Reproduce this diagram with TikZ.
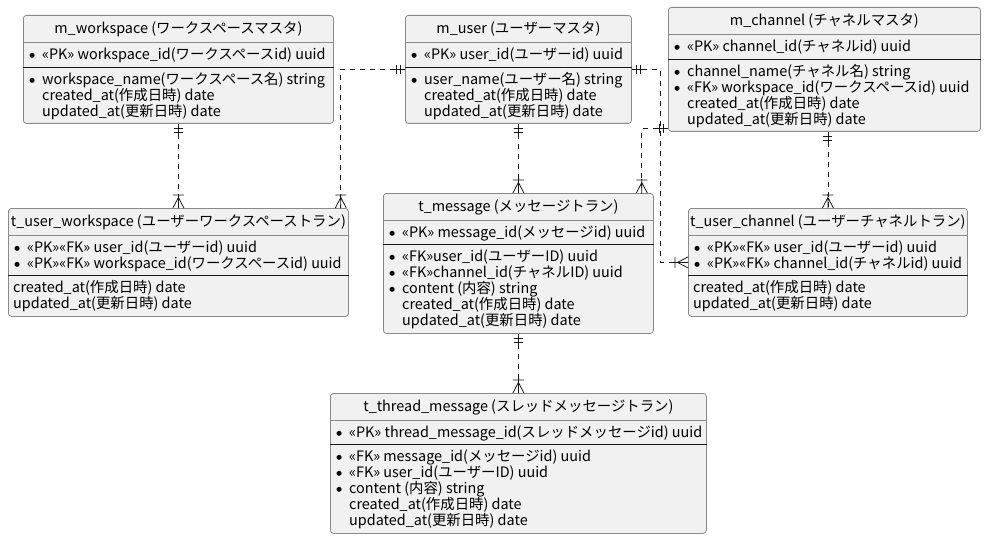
\documentclass[tikz,border=0pt]{standalone}
\usepackage{fontspec}
\setmainfont{Noto Sans CJK JP}
\newfontfamily\dotfont{DejaVu Sans}
\usetikzlibrary{calc}

\definecolor{entfill}{HTML}{F1F1F1}
\definecolor{entline}{HTML}{8A8A8A}
\definecolor{relline}{HTML}{181818}

\newcommand\bl{\makebox[8pt][c]{\raisebox{1.7pt}{\dotfont\fontsize{6.5}{8}\selectfont ●}}\hspace{6pt}}
\newcommand\nb{\hspace*{14pt}}

\tikzset{
  entbox/.style={draw=entline, fill=entfill, rounded corners=3pt, line width=0.8pt, inner sep=0pt},
  hsep/.style={draw=entline, line width=0.8pt},
  ksep/.style={draw=relline, line width=0.9pt},
  row/.style={anchor=base west, inner sep=0pt, font=\fontsize{14.4}{16}\selectfont},
  title/.style={anchor=base, inner sep=0pt, font=\fontsize{14.4}{16}\selectfont},
  rel/.style={draw=relline, line width=0.8pt, dash pattern=on 5pt off 5pt},
  exone/.pic={\draw[relline, line width=0.8pt] (0,0) -- (0,11) (-4.5,5) -- (4.5,5) (-4.5,8.5) -- (4.5,8.5);},
  onemany/.pic={\draw[relline, line width=0.8pt] (-5.5,0) -- (0,10.5) -- (5.5,0) (0,0) -- (0,14) (-5.5,13) -- (5.5,13);},
}

% #1 name, #2 x, #3 y, #4 width, #5 height, #6 key part height, #7 title, #8 key rows, #9 other rows
\newcommand\entity[9]{%
  \node[entbox, minimum width=#4pt, minimum height=#5pt, anchor=north west] (#1) at (#2,#3) {};
  \node[title] (#1-t) at ($(#1.north)+(0,18.5)$) {#7};
  \draw[hsep] ($(#1.north west)+(0,27)$) -- ($(#1.north east)+(0,27)$);
  \foreach \r [count=\i from 0] in {#8}
    \node[row] at ($(#1.north west)+(5,44.5+16*\i)$) {\r};
  \draw[ksep] ($(#1.north west)+(0,27+#6)$) -- ($(#1.north east)+(0,27+#6)$);
  \foreach \r [count=\i from 0] in {#9}
    \node[row] at ($(#1.north west)+(5,44.5+#6+16*\i)$) {\r};
}

\begin{document}
\begin{tikzpicture}[x=1pt, y=-1pt]
\useasboundingbox (0,0) rectangle (984,540);

\entity{ws}{23}{15}{310}{108}{25}{m\_workspace (ワークスペースマスタ)}
  {\bl «PK» workspace\_id(ワークスペースid) uuid}
  {\bl workspace\_name(ワークスペース名) string, \nb created\_at(作成日時) date, \nb updated\_at(更新日時) date}
\entity{us}{405}{15}{226}{108}{25}{m\_user (ユーザーマスタ)}
  {\bl «PK» user\_id(ユーザーid) uuid}
  {\bl user\_name(ユーザー名) string, \nb created\_at(作成日時) date, \nb updated\_at(更新日時) date}
\entity{ch}{668}{7}{312}{124}{25}{m\_channel (チャネルマスタ)}
  {\bl «PK» channel\_id(チャネルid) uuid}
  {\bl channel\_name(チャネル名) string, \bl «FK» workspace\_id(ワークスペースid) uuid, \nb created\_at(作成日時) date, \nb updated\_at(更新日時) date}
\entity{uws}{8}{208}{340}{108}{40}{t\_user\_workspace (ユーザーワークスペーストラン)}
  {\bl «PK»«FK» user\_id(ユーザーid) uuid, \bl «PK»«FK» workspace\_id(ワークスペースid) uuid}
  {created\_at(作成日時) date, updated\_at(更新日時) date}
\entity{msg}{383}{193}{270}{140}{24}{t\_message (メッセージトラン)}
  {\bl «PK» message\_id(メッセージid) uuid}
  {\bl «FK»user\_id(ユーザーID) uuid, \bl «FK»channel\_id(チャネルID) uuid, \bl content (内容) string, \nb created\_at(作成日時) date, \nb updated\_at(更新日時) date}
\entity{uch}{688}{208}{279}{108}{40}{t\_user\_channel (ユーザーチャネルトラン)}
  {\bl «PK»«FK» user\_id(ユーザーid) uuid, \bl «PK»«FK» channel\_id(チャネルid) uuid}
  {created\_at(作成日時) date, updated\_at(更新日時) date}
\entity{thr}{330}{393}{376}{140}{24}{t\_thread\_message (スレッドメッセージトラン)}
  {\bl «PK» thread\_message\_id(スレッドメッセージid) uuid}
  {\bl «FK» message\_id(メッセージid) uuid, \bl «FK» user\_id(ユーザーID) uuid, \bl content (内容) string, \nb created\_at(作成日時) date, \nb updated\_at(更新日時) date}

% relations
\coordinate (bend) at (660,100);
\draw[rel] (ws.south) -- (uws.north);
\draw[rel] (us.west) -| ($(uws.north east)+(-8,0)$);
\draw[rel] (us.south) -- (msg.north);
\draw[rel] (us.east) -| (bend) |- (uch.west);
\draw[rel] ($(ch.south west)+(0,-3)$) -| ($(msg.north east)+(-12,0)$);
\draw[rel] (uch.north |- ch.south) -- (uch.north);
\draw[rel] (msg.south) -- (thr.north);

% ends
\pic at (ws.south) {exone};
\pic at (us.south) {exone};
\pic at (msg.south) {exone};
\pic at (uch.north |- ch.south) {exone};
\pic[rotate=-90] at (us.west) {exone};
\pic[rotate=90] at (us.east) {exone};
\pic[rotate=-90] at ($(ch.south west)+(0,-3)$) {exone};
\pic[rotate=180] at (uws.north) {onemany};
\pic[rotate=180] at ($(uws.north east)+(-8,0)$) {onemany};
\pic[rotate=180] at (msg.north) {onemany};
\pic[rotate=180] at ($(msg.north east)+(-12,0)$) {onemany};
\pic[rotate=180] at (uch.north) {onemany};
\pic[rotate=180] at (thr.north) {onemany};
\pic[rotate=-90] at (uch.west) {onemany};
\end{tikzpicture}
\end{document}
